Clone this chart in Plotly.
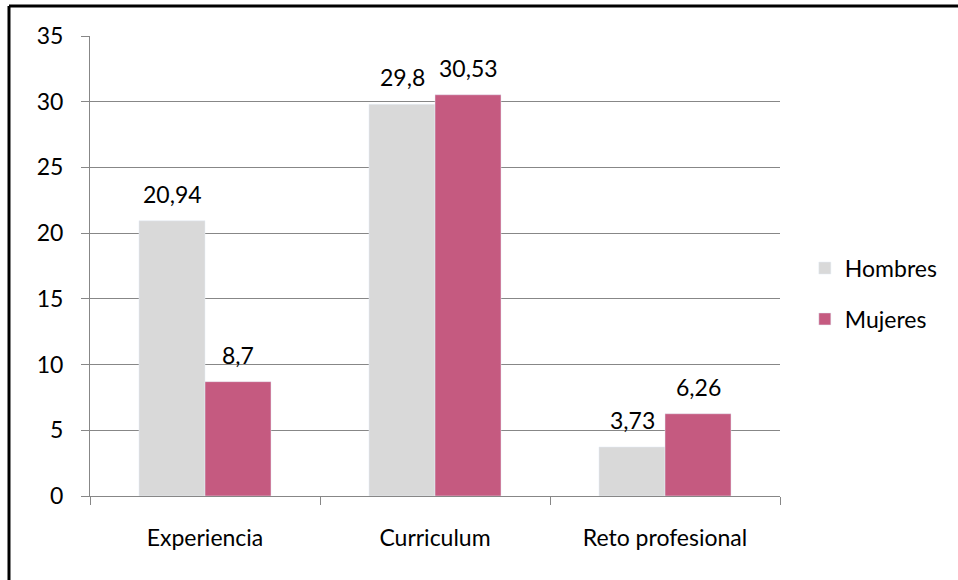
import plotly.graph_objects as go

# data
categorias = ["Experiencia", "Curriculum", "Reto profesional"]
hombres = [20.94, 29.8, 3.73]
mujeres = [8.7, 30.53, 6.26]
etiquetas_hombres = ["20,94", "29,8", "3,73"]
etiquetas_mujeres = ["8,7", "30,53", "6,26"]
y_ticks = [0, 5, 10, 15, 20, 25, 30, 35]

FONT = "Lato, Calibri, sans-serif"
SIZE = 23
GRIS = "#D9D9D9"
ROSA = "#C55A80"
EJE = "#878787"

fig = go.Figure()
fig.add_trace(go.Bar(x=categorias, y=hombres, name="Hombres", marker_color=GRIS,
                     legendgroup="h"))
fig.add_trace(go.Bar(x=categorias, y=mujeres, name="Mujeres", marker_color=ROSA,
                     legendgroup="m"))

# value labels above each bar (comma decimals, as in the original)
for vals, labels, shift in [(hombres, etiquetas_hombres, -33), (mujeres, etiquetas_mujeres, 33)]:
    for cat, v, lab in zip(categorias, vals, labels):
        fig.add_annotation(x=cat, y=v, text=lab, showarrow=False, xshift=shift,
                           yshift=11, yanchor="bottom",
                           font=dict(family=FONT, size=SIZE, color="black"))

# outer frame (only top and left edges are visible in the crop)
fig.add_shape(type="line", xref="paper", yref="paper", x0=-0.1174, x1=1.4,
              y0=1.0652, y1=1.0652, line=dict(color="black", width=3))
fig.add_shape(type="line", xref="paper", yref="paper", x0=-0.1174, x1=-0.1174,
              y0=1.0652, y1=-0.3, line=dict(color="black", width=3))

fig.update_layout(
    width=958, height=580,
    margin=dict(l=90, r=178, t=36, b=84),
    barmode="group", bargap=0.426, bargroupgap=0,
    plot_bgcolor="white", paper_bgcolor="white",
    font=dict(family=FONT, size=SIZE, color="black"),
    showlegend=True,
    legend=dict(x=1.036, y=0.44, xanchor="left", yanchor="middle",
                traceorder="grouped", tracegroupgap=18,
                font=dict(family=FONT, size=SIZE), itemwidth=30),
)
fig.update_xaxes(showline=True, linecolor=EJE, linewidth=1,
                 ticks="outside", tickson="boundaries", ticklen=8, tickcolor=EJE,
                 ticklabelstandoff=21, showgrid=False)
fig.update_yaxes(range=[0, 35], tickvals=y_ticks, showline=True, linecolor=EJE,
                 linewidth=1, ticks="outside", ticklen=8, tickcolor=EJE,
                 showgrid=True, gridcolor=EJE, gridwidth=1,
                 ticklabelstandoff=13, zeroline=False)

fig.write_html("out.html", config={"displayModeBar": False},
               post_script="document.body.style.margin='0px';")
